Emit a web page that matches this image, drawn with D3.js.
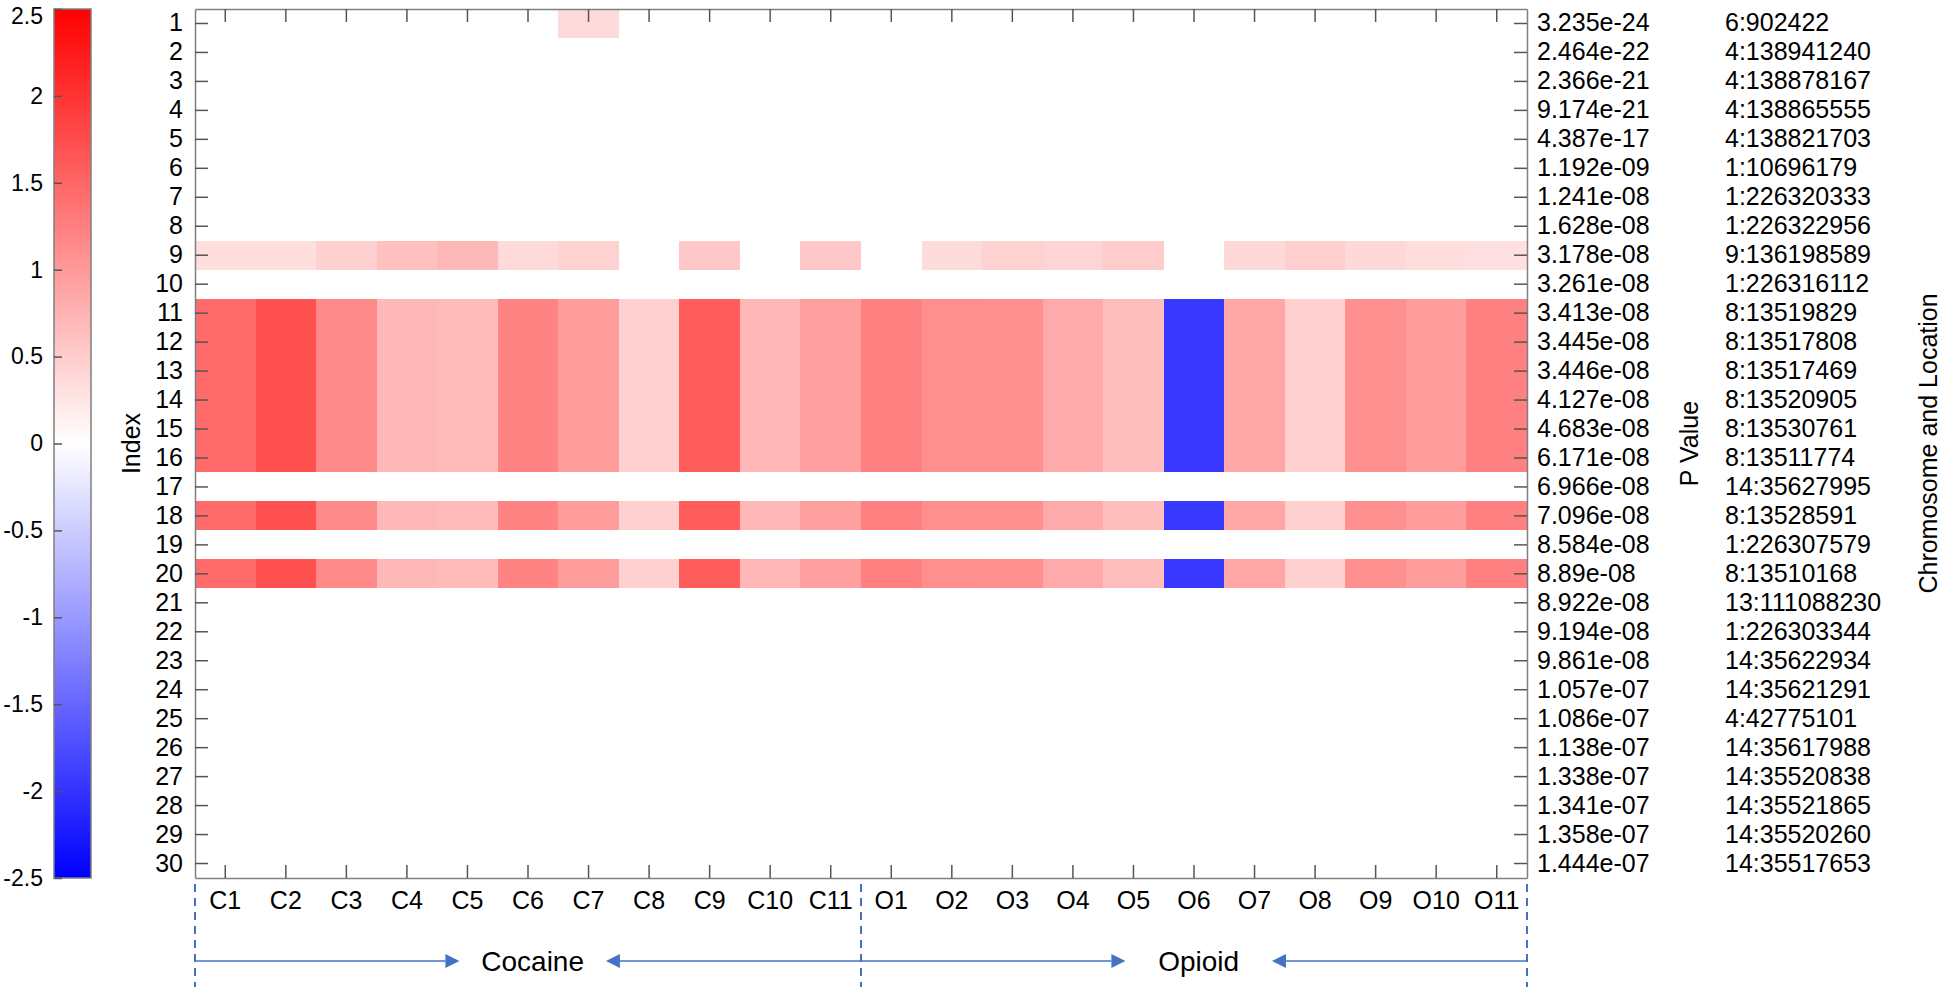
<!DOCTYPE html>
<html>
<head>
<meta charset="utf-8">
<script src="https://cdn.jsdelivr.net/npm/d3@7"></script>
<style>
  body { margin: 0; background: #fff; }
  text { font-family: Arial, "Liberation Sans", sans-serif; fill: #000; }
</style>
</head>
<body>
<div id="vis"></div>
<script>
const WIDTH = 1943;
const HEIGHT = 987;

// columns: cocaine and opioid samples
const columns = ["C1","C2","C3","C4","C5","C6","C7","C8","C9","C10","C11",
                 "O1","O2","O3","O4","O5","O6","O7","O8","O9","O10","O11"];
const rowIndex = d3.range(1, 31);

const pValues = ["3.235e-24","2.464e-22","2.366e-21","9.174e-21","4.387e-17","1.192e-09",
  "1.241e-08","1.628e-08","3.178e-08","3.261e-08","3.413e-08","3.445e-08","3.446e-08",
  "4.127e-08","4.683e-08","6.171e-08","6.966e-08","7.096e-08","8.584e-08","8.89e-08",
  "8.922e-08","9.194e-08","9.861e-08","1.057e-07","1.086e-07","1.138e-07","1.338e-07",
  "1.341e-07","1.358e-07","1.444e-07"];

const locations = ["6:902422","4:138941240","4:138878167","4:138865555","4:138821703",
  "1:10696179","1:226320333","1:226322956","9:136198589","1:226316112","8:13519829",
  "8:13517808","8:13517469","8:13520905","8:13530761","8:13511774","14:35627995",
  "8:13528591","1:226307579","8:13510168","13:111088230","1:226303344","14:35622934",
  "14:35621291","4:42775101","14:35617988","14:35520838","14:35521865","14:35520260",
  "14:35517653"];

// non-zero rows (all other rows are 0)
const row1  = [0,0,0,0,0,0,0.36,0,0,0,0, 0,0,0,0,0,0,0,0,0,0,0];
const row9  = [0.32,0.32,0.46,0.62,0.70,0.36,0.44,0,0.54,0,0.54,
               0,0.34,0.44,0.42,0.50,0,0.38,0.47,0.38,0.33,0.30];
const row11to16 = [1.45,1.72,1.15,0.70,0.68,1.22,0.97,0.46,1.60,0.72,0.93,
                   1.25,1.11,1.09,0.83,0.64,-1.95,0.87,0.46,1.09,0.97,1.25];
const row18 = [1.45,1.72,1.15,0.70,0.68,1.22,0.97,0.46,1.60,0.72,0.93,
               1.25,1.11,1.09,0.83,0.64,-1.95,0.87,0.46,1.09,0.97,1.25];
const row20 = [1.45,1.72,1.15,0.70,0.68,1.22,0.97,0.46,1.60,0.72,0.93,
               1.25,1.11,1.09,0.83,0.64,-1.95,0.87,0.46,1.09,0.97,1.25];

const colorTicks = [-2.5,-2,-1.5,-1,-0.5,0,0.5,1,1.5,2,2.5];
const groups = [{name: "Cocaine", first: "C1", last: "C11"},
                {name: "Opioid", first: "O1", last: "O11"}];

function rowValues(r) {
  if (r === 1) return row1;
  if (r === 9) return row9;
  if (r >= 11 && r <= 16) return row11to16;
  if (r === 18) return row18;
  if (r === 20) return row20;
  return null;
}

const cells = [];
rowIndex.forEach(r => {
  const vals = rowValues(r);
  columns.forEach((c, i) => cells.push({row: r, col: c, value: vals ? vals[i] : 0}));
});

const plot = {left: 195, right: 1527, top: 9, bottom: 878};
const axisColor = "#7f7f7f";
const blue = "#4472c4";

const x = d3.scaleBand().domain(columns).range([plot.left, plot.right]);
const y = d3.scaleBand().domain(rowIndex).range([plot.top, plot.bottom]);
const color = d3.scaleLinear().domain([-2.5, 0, 2.5]).range(["#0000ff", "#ffffff", "#ff0000"]);

const svg = d3.select("#vis").append("svg")
  .attr("width", WIDTH).attr("height", HEIGHT);

// heatmap cells
svg.append("g").selectAll("rect")
  .data(cells)
  .join("rect")
  .attr("x", d => x(d.col))
  .attr("y", d => y(d.row))
  .attr("width", x.bandwidth())
  .attr("height", y.bandwidth())
  .attr("fill", d => color(d.value))
  .attr("shape-rendering", "crispEdges");

function styleAxis(g, fontSize) {
  g.selectAll(".domain").attr("stroke", axisColor).attr("stroke-width", 1.5);
  g.selectAll(".tick line").attr("stroke", "#555").attr("stroke-width", 1.5);
  g.selectAll("text").attr("font-size", fontSize).attr("fill", "#000")
    .style("font-family", "Arial, 'Liberation Sans', sans-serif");
}

// axes with inward ticks on all four sides
svg.append("g").attr("transform", `translate(${plot.left},0)`)
  .call(d3.axisLeft(y).tickSizeInner(-13).tickSizeOuter(0).tickPadding(12))
  .call(g => styleAxis(g, 25));

svg.append("g").attr("transform", `translate(${plot.right},0)`)
  .call(d3.axisRight(y).tickSizeInner(-13).tickSizeOuter(0).tickPadding(10)
    .tickFormat((d, i) => pValues[i]))
  .call(g => styleAxis(g, 25));

svg.append("g").attr("transform", "translate(1725,0)")
  .call(d3.axisRight(y).tickSize(0).tickPadding(0).tickFormat((d, i) => locations[i]))
  .call(g => g.select(".domain").remove())
  .call(g => styleAxis(g, 25));

svg.append("g").attr("transform", `translate(0,${plot.top})`)
  .call(d3.axisTop(x).tickSizeInner(-13).tickSizeOuter(0).tickFormat(""))
  .call(g => styleAxis(g, 24));

svg.append("g").attr("transform", `translate(0,${plot.bottom})`)
  .call(d3.axisBottom(x).tickSizeInner(-13).tickSizeOuter(0).tickPadding(13))
  .call(g => styleAxis(g, 25));

// axis titles
const midY = (plot.top + plot.bottom) / 2;
svg.append("text").attr("transform", `translate(140,${midY}) rotate(-90)`)
  .attr("text-anchor", "middle").attr("font-size", 25).text("Index");
svg.append("text").attr("transform", `translate(1698,${midY}) rotate(-90)`)
  .attr("text-anchor", "middle").attr("font-size", 25).text("P Value");
svg.append("text").attr("transform", `translate(1937,${midY}) rotate(-90)`)
  .attr("text-anchor", "middle").attr("font-size", 25).text("Chromosome and Location");

// colour bar
const cb = {left: 54, width: 37};
const cbScale = d3.scaleLinear().domain([-2.5, 2.5]).range([plot.bottom, plot.top]);
const grad = svg.append("defs").append("linearGradient")
  .attr("id", "cbgrad").attr("x1", 0).attr("y1", 1).attr("x2", 0).attr("y2", 0);
grad.selectAll("stop")
  .data([-2.5, 0, 2.5])
  .join("stop")
  .attr("offset", d => (d + 2.5) / 5)
  .attr("stop-color", d => color(d));
svg.append("rect")
  .attr("x", cb.left).attr("y", plot.top)
  .attr("width", cb.width).attr("height", plot.bottom - plot.top)
  .attr("fill", "url(#cbgrad)")
  .attr("stroke", axisColor).attr("stroke-width", 1.5);
svg.append("g").attr("transform", `translate(${cb.left},0)`)
  .call(d3.axisLeft(cbScale).tickValues(colorTicks).tickSizeInner(-8).tickSizeOuter(0)
    .tickPadding(11).tickFormat(d => String(d)))
  .call(g => g.select(".domain").remove())
  .call(g => styleAxis(g, 23))
  // top label sits just inside the page like the original
  .call(g => g.selectAll(".tick text").filter(d => d === 2.5).attr("dy", "0.62em"));

// group separators and arrows
const arrowY = 961;
const boundaries = [x("C1"), x("O1"), x("O11") + x.bandwidth()];
svg.append("g").selectAll("line")
  .data(boundaries)
  .join("line")
  .attr("x1", d => d).attr("x2", d => d)
  .attr("y1", 884).attr("y2", HEIGHT)
  .attr("stroke", blue).attr("stroke-width", 2)
  .attr("stroke-dasharray", "8,6");

const ah = 14;
groups.forEach(gr => {
  const x0 = x(gr.first);
  const x1 = x(gr.last) + x.bandwidth();
  const span = x1 - x0;
  const tipR = x0 + span * 0.397;
  const tipL = x0 + span * 0.617;
  const g = svg.append("g");
  g.append("line").attr("x1", x0).attr("x2", tipR - ah).attr("y1", arrowY).attr("y2", arrowY)
    .attr("stroke", blue).attr("stroke-width", 1.5);
  g.append("path")
    .attr("d", `M${tipR},${arrowY} L${tipR - ah},${arrowY - 7} L${tipR - ah},${arrowY + 7} Z`)
    .attr("fill", blue);
  g.append("line").attr("x1", tipL + ah).attr("x2", x1).attr("y1", arrowY).attr("y2", arrowY)
    .attr("stroke", blue).attr("stroke-width", 1.5);
  g.append("path")
    .attr("d", `M${tipL},${arrowY} L${tipL + ah},${arrowY - 7} L${tipL + ah},${arrowY + 7} Z`)
    .attr("fill", blue);
  g.append("text")
    .attr("x", (tipR + tipL) / 2).attr("y", arrowY)
    .attr("dy", "0.35em").attr("text-anchor", "middle")
    .attr("font-size", 28).text(gr.name);
});
</script>
</body>
</html>
